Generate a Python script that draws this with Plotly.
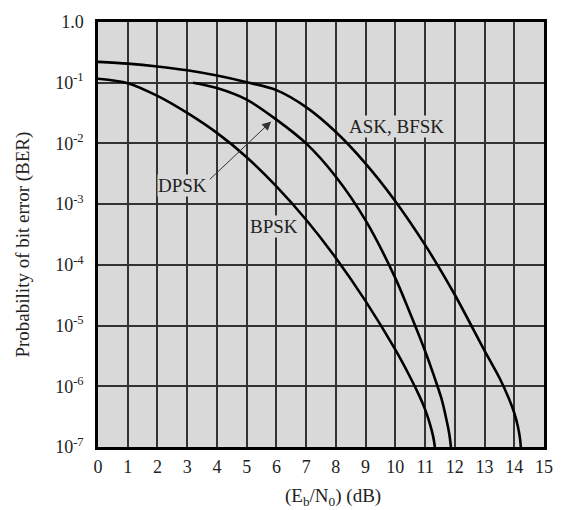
import plotly.graph_objects as go

# Eb/N0 (dB) and BER values
ask_x = [0, 1, 2, 3, 4, 5, 6, 7, 8, 9, 10, 11, 12, 13, 13.5, 13.8, 14.0, 14.12, 14.19, 14.22]
ask_y = [0.220, 0.206, 0.185, 0.160, 0.131, 0.102, 0.0755, 0.0396, 0.0154, 4.66e-3,
         1.12e-3, 2.13e-4, 3.22e-5, 3.87e-6, 1.38e-6, 6.61e-7, 3.63e-7, 2.19e-7, 1.41e-7, 1e-7]

bpsk_x = [0, 1, 2, 3, 4, 5, 6, 7, 8, 9, 10, 10.5, 10.8, 11.0, 11.15, 11.27, 11.33]
bpsk_y = [0.116, 0.0984, 0.0607, 0.0318, 0.0149, 5.93e-3, 1.96e-3, 5.53e-4, 1.30e-4,
          2.53e-5, 4.01e-6, 1.41e-6, 7.08e-7, 4.17e-7, 2.51e-7, 1.51e-7, 1e-7]

dpsk_x = [3.2, 4, 5, 6, 7, 8, 9, 10, 10.5, 11, 11.3, 11.55, 11.72, 11.82, 11.87]
dpsk_y = [0.1, 0.0817, 0.0527, 0.0247, 0.01, 2.83e-3, 5.40e-4, 6.05e-5, 1.58e-5,
          3.82e-6, 1.48e-6, 6.31e-7, 2.82e-7, 1.58e-7, 1e-7]

x_ticks = list(range(0, 16))
y_tickvals = [1, 1e-1, 1e-2, 1e-3, 1e-4, 1e-5, 1e-6, 1e-7]
y_ticktext = ["1.0", "10<sup>-1</sup>", "10<sup>-2</sup>", "10<sup>-3</sup>",
              "10<sup>-4</sup>", "10<sup>-5</sup>", "10<sup>-6</sup>", "10<sup>-7</sup>"]

FONT = "Liberation Serif"
BG = "#d9d9d9"
GRID = "#333333"

fig = go.Figure()
for xs, ys in [(ask_x, ask_y), (dpsk_x, dpsk_y), (bpsk_x, bpsk_y)]:
    fig.add_trace(go.Scatter(x=xs, y=ys, mode="lines",
                             line=dict(color="black", width=2.6, shape="spline", smoothing=0.8),
                             showlegend=False, hoverinfo="skip"))

fig.update_layout(
    width=562, height=510,
    margin=dict(l=98, r=9, t=22, b=63),
    paper_bgcolor="white",
    plot_bgcolor=BG,
    font=dict(family=FONT, size=18, color="#222222"),
    showlegend=False,
)
fig.update_xaxes(range=[0, 15], tickvals=x_ticks, ticktext=[str(v) for v in x_ticks],
                 showgrid=True, gridcolor=GRID, gridwidth=1.5,
                 showline=True, linecolor="black", linewidth=2.5, mirror=True,
                 ticks="outside", ticklen=2, tickcolor="rgba(0,0,0,0)",
                 zeroline=False, tickfont=dict(size=18))
fig.update_yaxes(type="log", range=[-7, 0], tickvals=y_tickvals, ticktext=y_ticktext,
                 showgrid=True, gridcolor=GRID, gridwidth=1.5,
                 showline=True, linecolor="black", linewidth=2.5, mirror=True,
                 ticks="outside", ticklen=8, tickcolor="rgba(0,0,0,0)",
                 zeroline=False, tickfont=dict(size=18))

# Labels
fig.add_annotation(x=10.03, y=-1.724, text="ASK, BFSK", showarrow=False,
                   bgcolor=BG, font=dict(size=19), borderpad=0)
fig.add_annotation(x=2.85, y=-2.70, text="DPSK", showarrow=False,
                   bgcolor=BG, font=dict(size=19), borderpad=0)
fig.add_annotation(x=5.93, y=-3.375, text="BPSK", showarrow=False,
                   bgcolor=BG, font=dict(size=19), borderpad=0)
# Arrow from DPSK label to the DPSK curve
fig.add_annotation(x=5.825, y=-1.637, ax=3.71, ay=-2.615, axref="x", ayref="y",
                   xref="x", yref="y", text="", showarrow=True,
                   arrowhead=2, arrowsize=1.8, arrowwidth=1, arrowcolor="#333333")

# Axis titles
fig.add_annotation(xref="paper", yref="paper", x=(337.5 - 98) / 455, y=-(497 - 447) / 425,
                   text="(E<sub>b</sub>/N<sub>0</sub>) (dB)", showarrow=False,
                   font=dict(size=19), yanchor="middle")
fig.add_annotation(xref="paper", yref="paper", x=-(98 - 21) / 455, y=(447 - 245) / 425,
                   text="Probability of bit error (BER)", showarrow=False, textangle=-90,
                   font=dict(size=19), xanchor="center", yanchor="middle")

fig.write_html("out.html")
